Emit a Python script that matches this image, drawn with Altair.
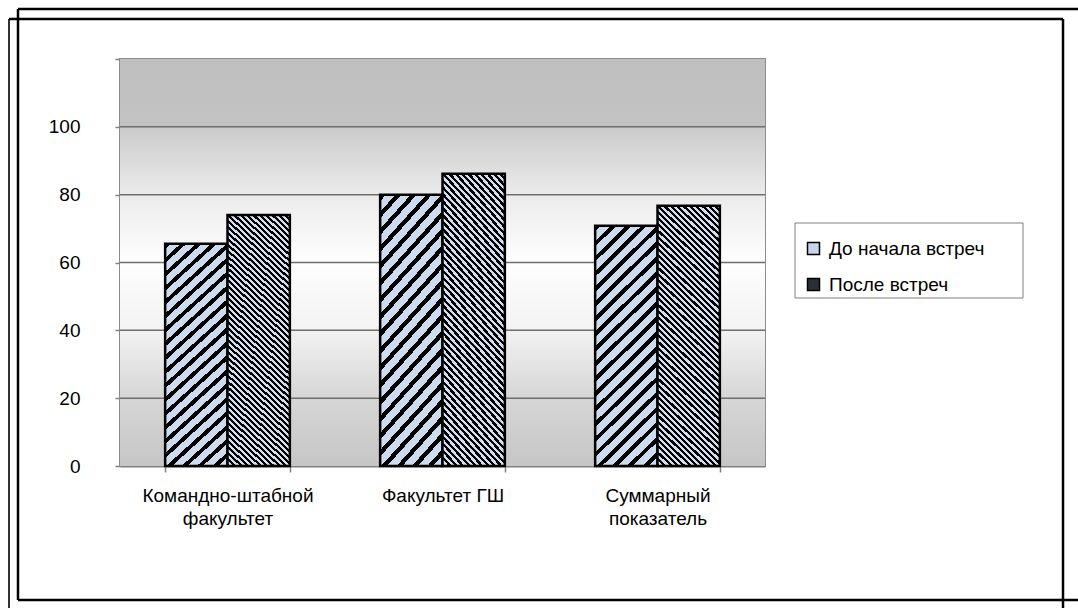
import altair as alt
import pandas as pd

# ---- data ----
categories = ["Командно-штабной факультет", "Факультет ГШ", "Суммарный показатель"]
category_lines = [["Командно-штабной", "факультет"], ["Факультет ГШ"], ["Суммарный", "показатель"]]
series_names = ["До начала встреч", "После встреч"]
before_values = [65.5, 80.0, 70.8]
after_values = [74.0, 86.2, 76.7]
y_ticks = [0, 20, 40, 60, 80, 100, 120]
grid_values = [20, 40, 60, 80, 100]

# ---- layout ----
W, H = 645, 407
Y_MAX = 120
PAD_INNER = 0.42
FONT = "Liberation Sans"
FS = 19

rows = []
for c, b, a in zip(categories, before_values, after_values):
    rows.append({"category": c, "series": series_names[0], "value": b})
    rows.append({"category": c, "series": series_names[1], "value": a})
df = pd.DataFrame(rows)

step = W / len(categories)
bar_w = step * (1 - PAD_INNER) / 2


def hatch(values, period, dark_frac, dark, light, direction):
    """Striped fill built from a linear gradient with hard stops."""
    h = sum(values) / len(values) * H / Y_MAX
    w = bar_w
    s = (w + h) / (w * w + h * h)
    n = max(1, round((w + h) / period))
    stops = []
    for i in range(n):
        a = round(i / n, 5)
        m = round((i + dark_frac) / n, 5)
        e = round((i + 1) / n, 5)
        stops += [
            alt.GradientStop(offset=a, color=dark),
            alt.GradientStop(offset=m, color=dark),
            alt.GradientStop(offset=m, color=light),
            alt.GradientStop(offset=e, color=light),
        ]
    if direction == "up":
        return alt.LinearGradient(gradient="linear", stops=stops,
                                  x1=0, y1=0, x2=w * s, y2=h * s)
    return alt.LinearGradient(gradient="linear", stops=stops,
                              x1=0, y1=1, x2=w * s, y2=1 - h * s)


fill_before = hatch(before_values, 15, 0.38, "#000000", "#cddbee", "up")
fill_after = hatch(after_values, 6.4, 0.5, "#000000", "#d3def0", "down")

bg_gradient = alt.LinearGradient(
    gradient="linear", x1=0, y1=0, x2=0, y2=1,
    stops=[
        alt.GradientStop(offset=0, color="#bfbfbf"),
        alt.GradientStop(offset=0.165, color="#c3c3c3"),
        alt.GradientStop(offset=0.17, color="#cbcbcb"),
        alt.GradientStop(offset=0.33, color="#ebebeb"),
        alt.GradientStop(offset=0.5, color="#fefefe"),
        alt.GradientStop(offset=0.67, color="#f2f2f2"),
        alt.GradientStop(offset=0.83, color="#d6d6d6"),
        alt.GradientStop(offset=1, color="#c6c6c6"),
    ],
)

label_expr = " : ".join(
    f"datum.label == '{c}' ? {lines!r}" for c, lines in zip(categories, category_lines)
) + " : datum.label"

y_scale = alt.Scale(domain=[0, Y_MAX], nice=False, zero=True)
y_axis = alt.Axis(
    values=y_ticks, labelExpr="datum.value == 120 ? '' : datum.label",
    grid=False, domain=False, tickColor="#808080", tickSize=5, tickWidth=1.5,
    labelPadding=35, title=None, labelFontSize=FS, labelFont=FONT, labelColor="black",
)
x_enc = alt.X(
    "category:N", sort=categories,
    scale=alt.Scale(paddingInner=PAD_INNER, paddingOuter=PAD_INNER / 2),
    axis=alt.Axis(
        title=None, labelAngle=0, tickBand="extent", tickColor="#808080", tickSize=6,
        tickWidth=1.5, domainColor="#808080", domainWidth=2, labelFontSize=FS,
        labelFont=FONT, labelColor="black", labelLineHeight=23, labelPadding=14,
        labelExpr=label_expr, labelLimit=400,
    ),
)
xoff_enc = alt.XOffset("series:N", sort=series_names,
                       scale=alt.Scale(domain=series_names, paddingInner=0, paddingOuter=0))

one = pd.DataFrame({"k": [0]})

background = alt.Chart(one).mark_rect(fill=bg_gradient).encode(
    x=alt.value(0), x2=alt.value(W), y=alt.value(0), y2=alt.value(H)
)

grid = alt.Chart(pd.DataFrame({"v": grid_values})).mark_rule(
    color="#6e6e6e", strokeWidth=1.5
).encode(
    y=alt.Y("v:Q", scale=y_scale, axis=y_axis), x=alt.value(0), x2=alt.value(W)
)

base = alt.Chart(df).encode(
    x=x_enc, xOffset=xoff_enc,
    y=alt.Y("value:Q", scale=y_scale, axis=y_axis),
)

bars_before = base.transform_filter(alt.datum.series == series_names[0]).mark_bar(
    fill=fill_before, stroke="black", strokeWidth=2.5
)
bars_after = base.transform_filter(alt.datum.series == series_names[1]).mark_bar(
    fill=fill_after, stroke="black", strokeWidth=2.5
)

# legend frame (white box with thin grey border)
legend_box = alt.Chart(one).mark_rect(fill="white", stroke="#808080", strokeWidth=1).encode(
    x=alt.value(675), x2=alt.value(903), y=alt.value(164), y2=alt.value(239)
)

legend_layer = base.mark_square(opacity=0, size=1).encode(
    color=alt.Color(
        "series:N",
        scale=alt.Scale(domain=series_names, range=["#c6d5ea", "#2b2e36"]),
        legend=alt.Legend(
            orient="none", legendX=675, legendY=171, title=None, padding=9,
            rowPadding=16, symbolType="square", symbolSize=144,
            symbolStrokeColor="black", symbolStrokeWidth=1.5, symbolOpacity=1,
            labelFontSize=FS, labelFont=FONT, labelColor="black", labelOffset=6,
        ),
    )
)

# decorative double frame (pixel positions relative to the plot area)
def hline(x0, x1, y, color="black", sw=2.5):
    return alt.Chart(one).mark_rule(color=color, strokeWidth=sw).encode(
        x=alt.value(x0), x2=alt.value(x1), y=alt.value(y))


def vline(x, y0, y1, color="black", sw=2.5):
    return alt.Chart(one).mark_rule(color=color, strokeWidth=sw).encode(
        x=alt.value(x), y=alt.value(y0), y2=alt.value(y1))


frames = [
    vline(-102, -50, 541),
    hline(-102, 958, -50),
    vline(-111, -40, 549, color="#333333", sw=2),
    hline(-111, 943, -40),
    vline(943, -40, 549),
    hline(-102, 958, 541),
]

chart = alt.layer(
    background, grid, bars_before, bars_after, legend_box, legend_layer, *frames
).properties(
    width=W, height=H,
    padding={"left": 120, "top": 59, "right": 1078 - 120 - W, "bottom": 608 - 59 - H},
    autosize=alt.AutoSizeParams(type="none"),
    background="white",
).configure_view(stroke="#8c8c8c", strokeWidth=2)

chart.save("out.html", embed_options={"renderer": "svg", "actions": False})
